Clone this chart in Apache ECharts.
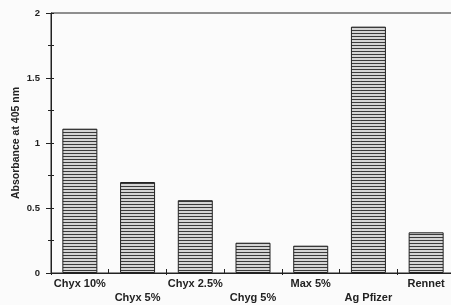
<!DOCTYPE html>
<html>
<head>
<meta charset="utf-8">
<script src="https://cdn.jsdelivr.net/npm/echarts@6/dist/echarts.min.js"></script>
<style>
  html, body { margin: 0; padding: 0; background: #fbfbfb; }
  #chart { width: 451px; height: 305px; }
</style>
</head>
<body>
<div id="chart"></div>
<script>
// categories and absorbance values
const categories = ['Chyx 10%', 'Chyx 5%', 'Chyx 2.5%', 'Chyg 5%', 'Max 5%', 'Ag Pfizer', 'Rennet'];
const absorbance = [1.11, 0.70, 0.56, 0.233, 0.21, 1.895, 0.313];
const yTicks = [0, 0.5, 1, 1.5, 2];

// horizontal stripe fill like the original hatching
const stripe = document.createElement('canvas');
stripe.width = 4;
stripe.height = 3;
const ctx = stripe.getContext('2d');
ctx.fillStyle = '#d4d4d4';
ctx.fillRect(0, 0, 4, 3);
ctx.fillStyle = '#3a3a3a';
ctx.fillRect(0, 0, 4, 1);

const font = '"Liberation Sans", Arial, sans-serif';
const myChart = echarts.init(document.getElementById('chart'));

// grid size, the second axes of each pair are shifted onto the first
const gridW = 404, gridH = 260;

const option = {
  backgroundColor: '#fbfbfb',
  animation: false,
  grid: {
    left: 51,
    top: 13,
    width: gridW,
    height: gridH,
    outerBoundsMode: 'none',
    containLabel: false,
    show: true,
    borderColor: '#222',
    borderWidth: 1
  },
  xAxis: [{
    type: 'category',
    data: categories,
    axisLine: { lineStyle: { color: '#222', width: 1 } },
    axisTick: { show: true, inside: true, length: 4, lineStyle: { color: '#222' } },
    axisLabel: {
      interval: 0,
      margin: 4,
      fontFamily: font,
      fontWeight: 'bold',
      fontSize: 11,
      lineHeight: 14,
      color: '#222',
      formatter: (val, idx) => idx % 2 ? '\n' + val : val
    }
  }, {
    type: 'category',
    data: categories,
    position: 'top',
    offset: -gridH,
    axisLine: { show: false },
    axisTick: { show: true, inside: true, length: 2, lineStyle: { color: '#222' } },
    axisLabel: { show: false }
  }],
  yAxis: [{
    type: 'value',
    min: 0,
    max: 2,
    interval: 0.5,
    name: 'Absorbance at 405 nm',
    nameLocation: 'middle',
    nameGap: 29,
    nameMoveOverlap: false,
    nameTextStyle: { fontFamily: font, fontWeight: 'bold', fontSize: 10.5, color: '#222' },
    axisLine: { show: true, lineStyle: { color: '#222', width: 1 } },
    axisTick: { show: true, inside: true, length: 3, lineStyle: { color: '#222' } },
    minorTick: { show: true, splitNumber: 2, length: 3, lineStyle: { color: '#222' } },
    splitLine: { show: false },
    axisLabel: {
      margin: 11,
      fontFamily: font,
      fontWeight: 'bold',
      fontSize: 9.5,
      color: '#222',
      formatter: v => yTicks.includes(v) ? String(v) : ''
    }
  }, {
    type: 'value',
    min: 0,
    max: 2,
    interval: 0.5,
    position: 'right',
    offset: -gridW,
    axisLine: { show: false },
    axisTick: { show: true, inside: true, length: 5, lineStyle: { color: '#222' } },
    minorTick: { show: true, splitNumber: 2, length: 3, lineStyle: { color: '#222' } },
    splitLine: { show: false },
    axisLabel: { show: false }
  }],
  series: [{
    type: 'bar',
    data: absorbance,
    barWidth: 35,
    itemStyle: {
      color: { image: stripe, repeat: 'repeat' },
      borderColor: '#222',
      borderWidth: 1
    }
  }]
};

myChart.setOption(option);
</script>
</body>
</html>
